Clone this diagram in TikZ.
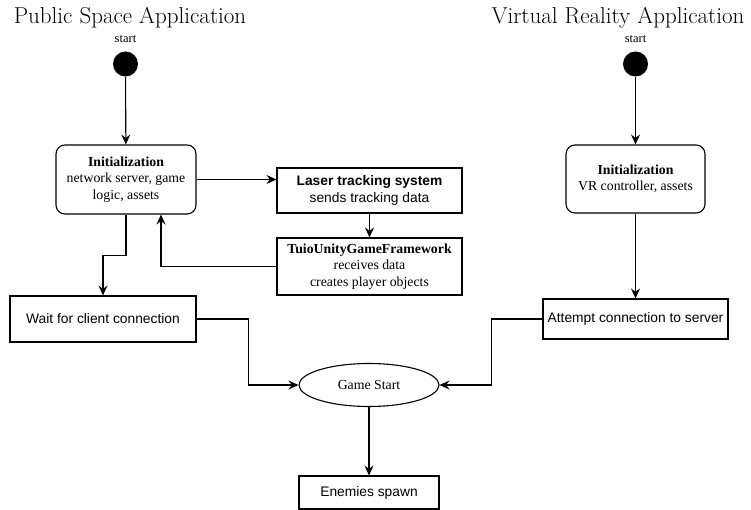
\documentclass[tikz,border=0pt]{standalone}
\usepackage{fontspec}
\newfontfamily\tnrfont{Liberation Serif}
\newfontfamily\arialfont{Liberation Sans}
\usetikzlibrary{shapes.geometric, arrows.meta, calc}

\begin{document}
\begin{tikzpicture}[x=1pt,y=-1pt,
	flow/.style={->,>={Stealth[length=10pt,width=9pt,inset=3.5pt]},line width=1.1pt},
	initbox/.style={draw,line width=1.1pt,rounded corners=9pt,align=center,inner sep=0pt,font=\tnrfont\fontsize{13.8}{16.5}\selectfont},
	procbox/.style={draw,line width=1.1pt,align=center,inner sep=0pt,font=\arialfont\fontsize{13.8}{16.5}\selectfont},
	startdot/.style={circle,fill=black,minimum size=25pt,inner sep=0pt},
	apptitle/.style={anchor=base,font=\fontsize{23}{27}\selectfont},
	startlabel/.style={anchor=base,font=\tnrfont\fontsize{12.5}{14}\selectfont}]
	\useasboundingbox (0,0) rectangle (751,510);
	% titles
	\node[apptitle] (titlePS) at (130,24) {Public Space Application};
	\node[apptitle] (titleVR) at (618,24) {Virtual Reality Application};
	% public space side
	\node[startlabel] (startPSlbl) at (125.5,43) {start};
	\node[startdot] (startPS) at (125.5,64) {};
	\node[initbox,minimum width=140pt,minimum height=69pt] (initPS) at (126,179.5)
		{\textbf{Initialization}\\network server, game\\logic, assets};
	\node[procbox,minimum width=185pt,minimum height=45pt] (laser) at (369.5,190.5)
		{\textbf{Laser tracking system}\\sends tracking data};
	\node[procbox,minimum width=185pt,minimum height=57pt,font=\tnrfont\fontsize{13.8}{16.5}\selectfont] (tuio) at (369.5,266.5)
		{\textbf{TuioUnityGameFramework}\\receives data\\creates player objects};
	\node[procbox,minimum width=186pt,minimum height=46pt] (wait) at (103,319) {Wait for client connection};
	% virtual reality side
	\node[startlabel] (startVRlbl) at (635.5,43) {start};
	\node[startdot] (startVR) at (635.5,64) {};
	\node[initbox,minimum width=139pt,minimum height=68pt] (initVR) at (635.5,179)
		{\textbf{Initialization}\\VR controller, assets};
	\node[procbox,minimum width=185pt,minimum height=40pt] (attempt) at (635.5,319) {Attempt connection to server};
	% common part
	\node[draw,ellipse,line width=1.1pt,minimum width=140pt,minimum height=43pt,inner sep=0pt,font=\tnrfont\fontsize{13.8}{16}\selectfont] (game) at (369,385) {Game Start};
	\node[procbox,minimum width=140pt,minimum height=33pt] (enemies) at (369,492.5) {Enemies spawn};
	% connectors
	\draw[flow] (startPS)--(initPS);
	\draw[flow] (initPS.east)--(initPS.east -| laser.west);
	\draw[flow] (laser)--(tuio);
	\draw[flow] (tuio.west) -| ($(initPS.south)+(35,0)$);
	\draw[flow] (initPS.south) -- ++(0,41) -| (wait.north);
	\draw[flow] (wait.east) -- ++(52,0) |- (game.west);
	\draw[flow] (startVR)--(initVR);
	\draw[flow] (initVR)--(attempt);
	\draw[flow] (attempt.west) -- ++(-51,0) |- (game.east);
	\draw[flow] (game)--(enemies);
\end{tikzpicture}
\end{document}
